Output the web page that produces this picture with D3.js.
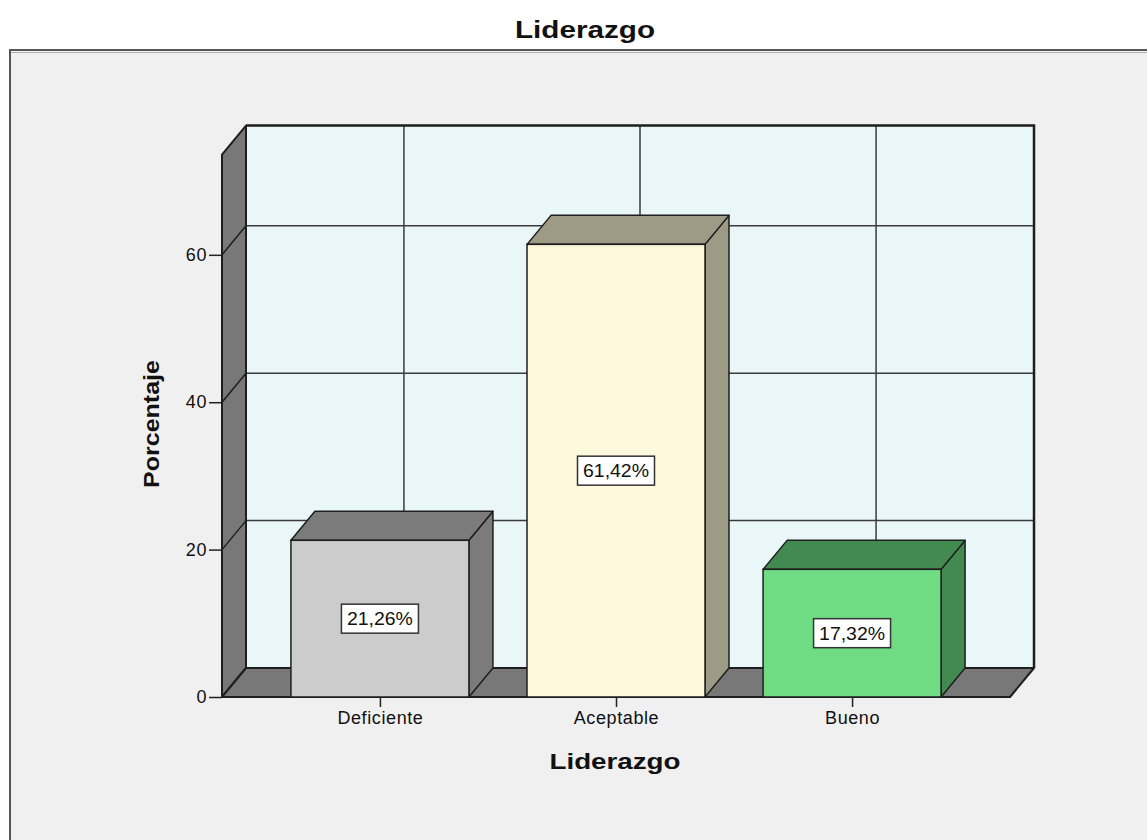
<!DOCTYPE html>
<html>
<head>
<meta charset="utf-8">
<script src="https://cdn.jsdelivr.net/npm/d3@7"></script>
<style>
  html, body { margin: 0; padding: 0; background: #ffffff; }
  svg { display: block; }
  text { font-family: "Liberation Sans", Arial, sans-serif; fill: #111; }
</style>
</head>
<body>
<svg id="chart" width="1147" height="840"></svg>
<script>
// ---- data ----
const categories = ["Deficiente", "Aceptable", "Bueno"];
const percentages = [21.26, 61.42, 17.32];
const valueLabels = ["21,26%", "61,42%", "17,32%"];
const yTicks = [0, 20, 40, 60];
const frontColors = ["#cccccc", "#fef8dc", "#6fdc84"];
const shadeColors = ["#7b7b7b", "#9d9b85", "#438a51"];
const chartTitle = "Liderazgo";
const xTitle = "Liderazgo";
const yTitle = "Porcentaje";

// ---- layout ----
const svg = d3.select("#chart");
const W = 1147, H = 840;
const plotLeft = 222, plotRight = 1010, plotBottom = 697, plotTop = 154.6;
const DX = 24, DY = -29;

svg.append("rect").attr("x", 0).attr("y", 0).attr("width", W).attr("height", H).attr("fill", "#ffffff");
// outer frame
svg.append("rect").attr("x", 10).attr("y", 50).attr("width", W + 20).attr("height", H)
  .attr("fill", "#f0f0f0").attr("stroke", "#555").attr("stroke-width", 2);
svg.append("line").attr("x1", 11).attr("x2", W).attr("y1", 52.5).attr("y2", 52.5)
  .attr("stroke", "#b0b0b0").attr("stroke-width", 1);

const x = d3.scalePoint().domain(categories).range([plotLeft, plotRight]).padding(0.669);
const y = d3.scaleLinear().domain([0, 73.6]).range([plotBottom, plotTop]);
const barW = x.step() * 0.754;

const gridColor = "#3a3a3a";
const edge = "#1e1e1e";

// back wall
svg.append("rect")
  .attr("x", plotLeft + DX).attr("y", plotTop + DY)
  .attr("width", plotRight - plotLeft).attr("height", plotBottom - plotTop)
  .attr("fill", "#eaf7f8");

// horizontal grid lines on back wall
svg.append("g").selectAll("line").data(yTicks.filter(d => d > 0)).join("line")
  .attr("x1", plotLeft + DX).attr("x2", plotRight + DX)
  .attr("y1", d => y(d) + DY).attr("y2", d => y(d) + DY)
  .attr("stroke", gridColor).attr("stroke-width", 1.5);

// vertical grid lines on back wall
svg.append("g").selectAll("line").data(categories).join("line")
  .attr("x1", d => x(d) + DX).attr("x2", d => x(d) + DX)
  .attr("y1", plotTop + DY).attr("y2", plotBottom + DY)
  .attr("stroke", gridColor).attr("stroke-width", 1.5);

// back wall border (top, right)
svg.append("path")
  .attr("d", `M${plotLeft + DX},${plotTop + DY} L${plotRight + DX},${plotTop + DY} L${plotRight + DX},${plotBottom + DY}`)
  .attr("fill", "none").attr("stroke", edge).attr("stroke-width", 2.5);

// left wall
svg.append("polygon")
  .attr("points", [[plotLeft, plotBottom], [plotLeft, plotTop], [plotLeft + DX, plotTop + DY], [plotLeft + DX, plotBottom + DY]].map(p => p.join(",")).join(" "))
  .attr("fill", "#787878").attr("stroke", edge).attr("stroke-width", 2).attr("stroke-linejoin", "round");

// diagonal grid lines on left wall
svg.append("g").selectAll("line").data(yTicks.filter(d => d > 0)).join("line")
  .attr("x1", plotLeft).attr("x2", plotLeft + DX)
  .attr("y1", d => y(d)).attr("y2", d => y(d) + DY)
  .attr("stroke", edge).attr("stroke-width", 1.5);

// floor
svg.append("polygon")
  .attr("points", [[plotLeft, plotBottom], [plotRight, plotBottom], [plotRight + DX, plotBottom + DY], [plotLeft + DX, plotBottom + DY]].map(p => p.join(",")).join(" "))
  .attr("fill", "#787878").attr("stroke", edge).attr("stroke-width", 2).attr("stroke-linejoin", "round");

// bars
const data = categories.map((c, i) => ({ c, v: percentages[i], label: valueLabels[i], front: frontColors[i], shade: shadeColors[i] }));
const bars = svg.append("g").selectAll("g").data(data).join("g");
bars.each(function (d) {
  const g = d3.select(this);
  const x0 = x(d.c) - barW / 2, x1 = x(d.c) + barW / 2;
  const yt = y(d.v), yb = y(0);
  // side
  g.append("polygon")
    .attr("points", [[x1, yb], [x1, yt], [x1 + DX, yt + DY], [x1 + DX, yb + DY]].map(p => p.join(",")).join(" "))
    .attr("fill", d.shade).attr("stroke", edge).attr("stroke-width", 1.5).attr("stroke-linejoin", "round");
  // top
  g.append("polygon")
    .attr("points", [[x0, yt], [x1, yt], [x1 + DX, yt + DY], [x0 + DX, yt + DY]].map(p => p.join(",")).join(" "))
    .attr("fill", d.shade).attr("stroke", edge).attr("stroke-width", 1.5).attr("stroke-linejoin", "round");
  // front
  g.append("rect").attr("x", x0).attr("y", yt).attr("width", barW).attr("height", yb - yt)
    .attr("fill", d.front).attr("stroke", edge).attr("stroke-width", 1.5);
  // value label
  const cy = (yt + yb) / 2;
  g.append("rect").attr("x", x(d.c) - 38.5).attr("y", cy - 14.5).attr("width", 77).attr("height", 29)
    .attr("fill", "#ffffff").attr("stroke", "#333").attr("stroke-width", 1.5);
  g.append("text").attr("x", x(d.c)).attr("y", cy + 6.5).attr("text-anchor", "middle")
    .attr("font-size", 18).attr("textLength", 66).attr("lengthAdjust", "spacingAndGlyphs")
    .text(d.label);
});

// y axis
const yAxis = svg.append("g").attr("transform", `translate(${plotLeft},0)`)
  .call(d3.axisLeft(y).tickValues(yTicks).tickSize(13).tickPadding(2).tickFormat(d3.format("d")));
yAxis.select(".domain").remove();
yAxis.selectAll(".tick line").attr("stroke", "#222").attr("stroke-width", 1.5);
yAxis.selectAll(".tick text").attr("font-size", 18).attr("letter-spacing", "0.6px")
  .attr("font-family", "Liberation Sans, Arial, sans-serif").attr("fill", "#222");

// x axis
const xAxis = svg.append("g").attr("transform", `translate(0,${plotBottom})`)
  .call(d3.axisBottom(x).tickSize(10).tickPadding(4));
xAxis.select(".domain").remove();
xAxis.selectAll(".tick line").attr("stroke", "#222").attr("stroke-width", 1.5);
xAxis.selectAll(".tick text").attr("font-size", 18).attr("letter-spacing", "0.6px")
  .attr("font-family", "Liberation Sans, Arial, sans-serif").attr("fill", "#222");

// titles
svg.append("text").attr("x", 585).attr("y", 38).attr("text-anchor", "middle")
  .attr("font-size", 24).attr("font-weight", "bold").attr("textLength", 140).attr("lengthAdjust", "spacingAndGlyphs")
  .text(chartTitle);
svg.append("text").attr("x", 615).attr("y", 769).attr("text-anchor", "middle")
  .attr("font-size", 22).attr("font-weight", "bold").attr("textLength", 131).attr("lengthAdjust", "spacingAndGlyphs")
  .text(xTitle);
svg.append("text").attr("transform", "translate(159,424) rotate(-90)").attr("text-anchor", "middle")
  .attr("font-size", 22).attr("font-weight", "bold").attr("textLength", 128).attr("lengthAdjust", "spacingAndGlyphs")
  .text(yTitle);
</script>
</body>
</html>
